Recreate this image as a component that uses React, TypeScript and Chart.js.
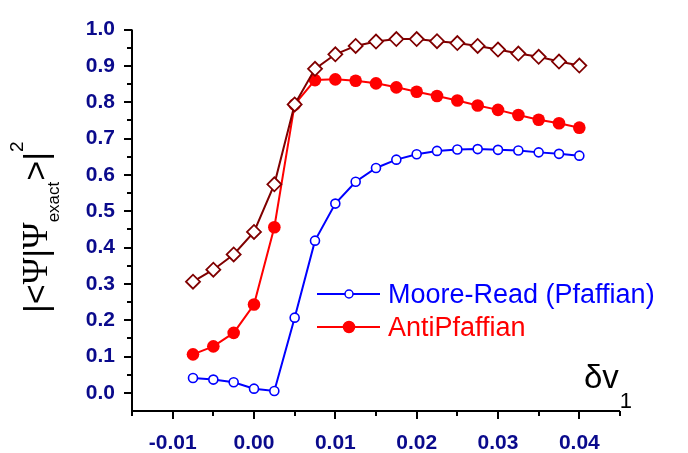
import React, { useEffect, useRef } from "react";
import { Chart, registerables } from "chart.js";
Chart.register(...registerables);

// ---- data ----
const deltaNu = [-0.0075, -0.005, -0.0025, 0, 0.0025, 0.005, 0.0075, 0.01, 0.0125, 0.015, 0.0175, 0.02, 0.0225, 0.025, 0.0275, 0.03, 0.0325, 0.035, 0.0375, 0.04];
const mooreRead = [0.041, 0.0365, 0.029, 0.0115, 0.005, 0.207, 0.419, 0.521, 0.581, 0.619, 0.642, 0.657, 0.666, 0.670, 0.671, 0.669, 0.667, 0.662, 0.658, 0.653];
const antiPfaffian = [0.106, 0.128, 0.165, 0.243, 0.456, 0.794, 0.861, 0.863, 0.859, 0.852, 0.841, 0.829, 0.817, 0.805, 0.791, 0.779, 0.765, 0.752, 0.742, 0.730];
const combined = [0.306, 0.339, 0.381, 0.443, 0.574, 0.794, 0.892, 0.932, 0.955, 0.967, 0.974, 0.974, 0.968, 0.963, 0.955, 0.945, 0.934, 0.925, 0.912, 0.901];

const xTickValues = [-0.01, 0, 0.01, 0.02, 0.03, 0.04];
const xTickLabels = ["-0.01", "0.00", "0.01", "0.02", "0.03", "0.04"];
const yTickValues = [0, 0.1, 0.2, 0.3, 0.4, 0.5, 0.6, 0.7, 0.8, 0.9, 1.0];
const yTickLabels = ["0.0", "0.1", "0.2", "0.3", "0.4", "0.5", "0.6", "0.7", "0.8", "0.9", "1.0"];
const legendLabels = ["Moore-Read (Pfaffian)", "AntiPfaffian"];

const X_MIN = -0.015, X_MAX = 0.045, X_MINOR = 0.005;
const Y_MIN = -0.05, Y_MAX = 1.0, Y_MINOR = 0.05;

const BLUE = "#0000FF";
const RED = "#FF0000";
const BROWN = "#800000";
const NAVY = "#0A0A8C";
const SANS = "'Liberation Sans', Arial, sans-serif";
const SERIF = "'Liberation Serif', 'Times New Roman', serif";

const pts = (ys: number[]) => deltaNu.map((x, i) => ({ x, y: ys[i] }));

const decorPlugin = {
  id: "decor",
  afterDraw(chart: any) {
    const ctx = chart.ctx as CanvasRenderingContext2D;
    const { left, right, top, bottom } = chart.chartArea;
    const xs = chart.scales.x;
    const ys = chart.scales.y;
    ctx.save();
    ctx.strokeStyle = "#000";
    ctx.lineWidth = 2;
    ctx.lineCap = "butt";
    // axis lines
    ctx.beginPath();
    ctx.moveTo(left, top);
    ctx.lineTo(left, bottom);
    ctx.moveTo(left - 1, bottom);
    ctx.lineTo(right, bottom);
    ctx.stroke();
    // x ticks
    const nx = Math.round((X_MAX - X_MIN) / X_MINOR);
    for (let i = 0; i <= nx; i++) {
      const v = X_MIN + i * X_MINOR;
      const px = Math.round(xs.getPixelForValue(v));
      const major = i % 2 === 1;
      ctx.beginPath();
      ctx.moveTo(px, bottom);
      ctx.lineTo(px, bottom + (major ? 8 : 5));
      ctx.stroke();
    }
    // y ticks
    const ny = Math.round((Y_MAX - Y_MIN) / Y_MINOR);
    for (let i = 1; i <= ny; i++) {
      const v = Y_MIN + i * Y_MINOR;
      const py = Math.round(ys.getPixelForValue(v));
      const major = i % 2 === 1;
      ctx.beginPath();
      ctx.moveTo(left, py);
      ctx.lineTo(left - (major ? 8 : 5), py);
      ctx.stroke();
    }

    // legend
    const drawLegendRow = (y: number, color: string, filled: boolean, r: number, label: string) => {
      ctx.strokeStyle = color;
      ctx.lineWidth = 2;
      ctx.beginPath();
      ctx.moveTo(317, y);
      ctx.lineTo(380, y);
      ctx.stroke();
      ctx.beginPath();
      ctx.arc(349, y, r, 0, Math.PI * 2);
      ctx.fillStyle = filled ? color : "#fff";
      ctx.fill();
      ctx.lineWidth = 1.5;
      ctx.stroke();
      ctx.fillStyle = color;
      ctx.font = `27px ${SANS}`;
      ctx.textAlign = "left";
      ctx.textBaseline = "alphabetic";
      ctx.fillText(label, 388, y + 9);
    };
    drawLegendRow(294, BLUE, false, 4, legendLabels[0]);
    drawLegendRow(327, RED, true, 5.5, legendLabels[1]);

    // x title: δν1
    ctx.fillStyle = "#000";
    ctx.textAlign = "left";
    ctx.textBaseline = "alphabetic";
    ctx.font = `33px ${SANS}`;
    ctx.fillText("δv", 584, 388);
    const w1 = ctx.measureText("δv").width;
    ctx.font = `22px ${SANS}`;
    ctx.fillText("1", 584 + w1 + 1, 408);

    // y title: |<Ψ|Ψexact>|^2, rotated
    ctx.translate(47, 313);
    ctx.rotate(-Math.PI / 2);
    let cx = 0;
    const piece = (t: string, font: string, dy: number) => {
      ctx.font = font;
      ctx.fillText(t, cx, dy);
      cx += ctx.measureText(t).width;
    };
    piece("|<", `34px ${SANS}`, 0);
    piece("Ψ", `36px ${SERIF}`, 0);
    piece("|", `34px ${SANS}`, 0);
    piece("Ψ", `36px ${SERIF}`, 0);
    piece("exact", `17px ${SANS}`, 12);
    cx += 1;
    piece(">|", `34px ${SANS}`, 0);
    piece("2", `19px ${SANS}`, -24);
    ctx.restore();
  },
};

export default function App() {
  const ref = useRef<HTMLCanvasElement | null>(null);
  useEffect(() => {
    if (!ref.current) return;
    const chart = new Chart(ref.current, {
      type: "line",
      data: {
        datasets: [
          {
            label: "combined",
            data: pts(combined),
            borderColor: BROWN,
            borderWidth: 2,
            pointStyle: "rectRot",
            pointRadius: 7,
            pointBorderWidth: 1.8,
            pointBackgroundColor: "#fff",
            pointBorderColor: BROWN,
            tension: 0,
          },
          {
            label: legendLabels[1],
            data: pts(antiPfaffian),
            borderColor: RED,
            borderWidth: 2,
            pointStyle: "circle",
            pointRadius: 6.3,
            pointBorderWidth: 0,
            pointBackgroundColor: RED,
            pointBorderColor: RED,
            tension: 0,
          },
          {
            label: legendLabels[0],
            data: pts(mooreRead),
            borderColor: BLUE,
            borderWidth: 2,
            pointStyle: "circle",
            pointRadius: 4.5,
            pointBorderWidth: 1.6,
            pointBackgroundColor: "#fff",
            pointBorderColor: BLUE,
            tension: 0,
          },
        ],
      },
      options: {
        animation: false,
        responsive: false,
        devicePixelRatio: 1,
        layout: { padding: { top: 17, right: 68, left: 0, bottom: 0 } },
        plugins: { legend: { display: false }, tooltip: { enabled: false } },
        scales: {
          x: {
            type: "linear",
            min: X_MIN,
            max: X_MAX,
            grid: { display: false, drawTicks: false },
            border: { display: false },
            afterBuildTicks: (scale: any) => {
              scale.ticks = xTickValues.map((v) => ({ value: v }));
            },
            afterFit: (scale: any) => {
              scale.height = 42;
            },
            ticks: {
              autoSkip: false,
              maxRotation: 0,
              padding: 20,
              color: NAVY,
              font: { family: SANS, size: 21, weight: "bold" },
              callback: (v: any) => {
                const i = xTickValues.findIndex((t) => Math.abs(t - Number(v)) < 1e-9);
                return i >= 0 ? xTickLabels[i] : "";
              },
            },
          },
          y: {
            type: "linear",
            min: Y_MIN,
            max: Y_MAX,
            grid: { display: false, drawTicks: false },
            border: { display: false },
            afterBuildTicks: (scale: any) => {
              scale.ticks = yTickValues.map((v) => ({ value: v }));
            },
            afterFit: (scale: any) => {
              scale.width = 132;
            },
            ticks: {
              autoSkip: false,
              padding: 17,
              color: NAVY,
              font: { family: SANS, size: 21, weight: "bold" },
              callback: (v: any) => {
                const i = yTickValues.findIndex((t) => Math.abs(t - Number(v)) < 1e-9);
                return i >= 0 ? yTickLabels[i] : "";
              },
            },
          },
        },
      } as any,
      plugins: [decorPlugin],
    });
    return () => chart.destroy();
  }, []);
  return (
    <div style={{ position: "fixed", left: 0, top: 0, width: 688, height: 453, background: "#fff" }}>
      <canvas ref={ref} width={688} height={453} style={{ width: 688, height: 453 }} />
    </div>
  );
}
